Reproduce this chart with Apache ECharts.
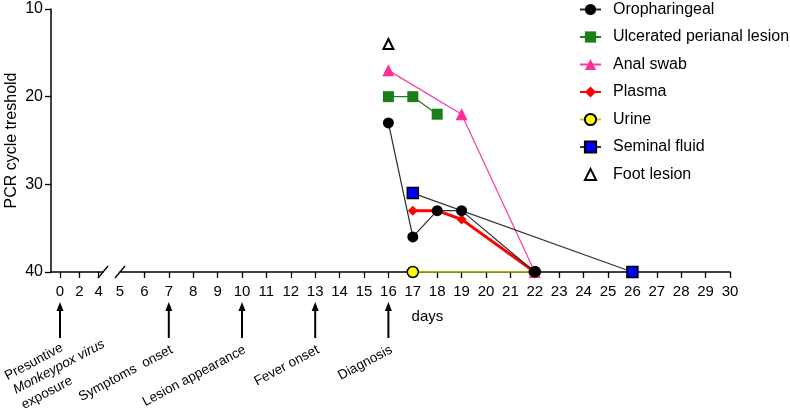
<!DOCTYPE html>
<html><head><meta charset="utf-8">
<script src="https://cdn.jsdelivr.net/npm/echarts@6/dist/echarts.min.js"></script>
<style>html,body{margin:0;padding:0;background:#fff}#c{width:790px;height:410px}</style>
</head><body><div id="c"></div>
<script>
// ---- data ----
const seriesNames = ['Oropharingeal', 'Ulcerated perianal lesion', 'Anal swab', 'Plasma', 'Urine', 'Seminal fluid', 'Foot lesion'];
const oroDays = [16, 17, 18, 19, 22];      const oroCt = [23, 36, 33, 33, 40];
const ulcDays = [16, 17, 18];              const ulcCt = [20, 20, 22];
const analDays = [16, 19, 22];             const analCt = [17, 22, 40];
const plasmaDays = [17, 18, 19, 22];       const plasmaCt = [33, 33, 34, 40];
const urineDays = [17, 22];                const urineCt = [40, 40];
const semDays = [17, 26];                  const semCt = [31, 40];
const footDays = [16];                     const footCt = [14];
const yTicks = [10, 20, 30, 40];
const xLabelsPre = [0, 2, 4];
const xLabelsMain = [5, 6, 7, 8, 9, 10, 11, 12, 13, 14, 15, 16, 17, 18, 19, 20, 21, 22, 23, 24, 25, 26, 27, 28, 29, 30];
const xTicksMain = [6, 7, 8, 9, 10, 11, 12, 13, 14, 15, 16, 17, 18, 19, 20, 21, 22, 23, 24, 25, 26, 27, 28, 29, 30];
const eventDays = [0, 7, 10, 13, 16];
const eventLabels = ['Presuntive\nMonkeypox virus\nexposure', 'Symptoms  onset', 'Lesion appearance', 'Fever onset', 'Diagnosis'];

const FONT = 'Liberation Sans, Arial, sans-serif';
const zip = (a, b) => a.map((v, i) => [v, b[i]]);

const chart = echarts.init(document.getElementById('c'), null, {renderer: 'canvas'});

const axisCommon = {
  type: 'value',
  axisLine: {show: true, onZero: false, lineStyle: {color: '#000', width: 1.5}},
  axisTick: {show: true, inside: false, length: 6, lineStyle: {color: '#000', width: 1.3}},
  axisLabel: {color: '#000', fontSize: 15, fontFamily: FONT, margin: 12, hideOverlap: false},
  splitLine: {show: false}
};

function lineSeries(name, days, ct, opts) {
  return Object.assign({
    name: name, type: 'line', xAxisIndex: 1, yAxisIndex: 1,
    data: zip(days, ct), animation: false
  }, opts);
}

const option = {
  animation: false,
  backgroundColor: '#fff',
  grid: [
    {left: 51, top: 9, width: 52, height: 263},
    {left: 120, top: 9, width: 610, height: 263}
  ],
  xAxis: [
    Object.assign({}, axisCommon, {
      gridIndex: 0, min: -0.933, max: 4.456,
      axisTick: Object.assign({}, axisCommon.axisTick, {customValues: xLabelsPre}),
      axisLabel: Object.assign({}, axisCommon.axisLabel, {customValues: xLabelsPre})
    }),
    Object.assign({}, axisCommon, {
      gridIndex: 1, min: 5, max: 30,
      axisTick: Object.assign({}, axisCommon.axisTick, {customValues: xTicksMain}),
      axisLabel: Object.assign({}, axisCommon.axisLabel, {customValues: xLabelsMain})
    })
  ],
  yAxis: [
    Object.assign({}, axisCommon, {
      gridIndex: 0, inverse: true, min: yTicks[0], max: yTicks[yTicks.length - 1], interval: 10,
      axisLabel: Object.assign({}, axisCommon.axisLabel, {fontSize: 16, margin: 8}),
      name: 'PCR cycle treshold', nameLocation: 'middle', nameRotate: 90, nameGap: 31,
      nameTextStyle: {color: '#000', fontSize: 16, fontFamily: FONT}
    }),
    {type: 'value', gridIndex: 1, inverse: true, min: yTicks[0], max: yTicks[yTicks.length - 1], show: false}
  ],
  legend: {
    orient: 'vertical', left: 579, top: 1.5, padding: 0, itemGap: 11.5, itemWidth: 21, itemHeight: 14,
    data: seriesNames,
    textStyle: {color: '#000', fontSize: 16, fontFamily: FONT, padding: [0, 0, 0, 7]}
  },
  series: [
    lineSeries(seriesNames[0], oroDays, oroCt, {
      z: 6, symbol: 'circle', symbolSize: 11,
      itemStyle: {color: '#000'}, lineStyle: {color: '#2a2a2a', width: 1.2}
    }),
    lineSeries(seriesNames[1], ulcDays, ulcCt, {
      z: 4, symbol: 'rect', symbolSize: 11,
      itemStyle: {color: '#1a7f1a'}, lineStyle: {color: '#1a7f1a', width: 1.2}
    }),
    lineSeries(seriesNames[2], analDays, analCt, {
      z: 3, symbol: 'triangle', symbolSize: 12,
      itemStyle: {color: '#ff2d95'}, lineStyle: {color: '#ff3aa0', width: 1.2}
    }),
    lineSeries(seriesNames[3], plasmaDays, plasmaCt, {
      z: 4, symbol: 'diamond', symbolSize: 10,
      itemStyle: {color: '#ff0000'}, lineStyle: {color: '#ff0000', width: 3}
    }),
    lineSeries(seriesNames[4], urineDays, urineCt, {
      z: 2, symbol: 'circle', symbolSize: 11,
      itemStyle: {color: '#ffff00', borderColor: '#000', borderWidth: 1.5}, lineStyle: {color: '#cccc00', width: 1.5}
    }),
    lineSeries(seriesNames[5], semDays, semCt, {
      z: 5, symbol: 'rect', symbolSize: 11,
      itemStyle: {color: '#0000ff', borderColor: '#000', borderWidth: 1.5}, lineStyle: {color: '#333', width: 1.2}
    }),
    lineSeries(seriesNames[6], footDays, footCt, {
      z: 6, symbol: 'triangle', symbolSize: 10,
      itemStyle: {color: '#fff', borderColor: '#000', borderWidth: 2}, lineStyle: {opacity: 0, width: 0}
    })
  ]
};

chart.setOption(option);

// ---- annotations (positions derived from the axes) ----
const graphics = [];
const axisY = chart.convertToPixel({yAxisIndex: 0}, 40);
const breakA = chart.convertToPixel({xAxisIndex: 0}, 4.456);
const breakB = chart.convertToPixel({xAxisIndex: 1}, 5);
[breakA, breakB].forEach(function (bx) {
  graphics.push({type: 'line', shape: {x1: bx - 5, y1: axisY + 6, x2: bx + 5, y2: axisY - 6},
    style: {stroke: '#000', lineWidth: 1.3}, silent: true});
});

const dayPx = function (d) {
  return d <= 4.456 ? chart.convertToPixel({xAxisIndex: 0}, d) : chart.convertToPixel({xAxisIndex: 1}, d);
};
const ROT = 28 * Math.PI / 180;
eventDays.forEach(function (d, i) {
  const x = dayPx(d);
  graphics.push({type: 'line', shape: {x1: x, y1: axisY + 37, x2: x, y2: axisY + 66},
    style: {stroke: '#000', lineWidth: 2}, silent: true});
  graphics.push({type: 'polygon', shape: {points: [[x - 3.5, axisY + 39], [x + 3.5, axisY + 39], [x, axisY + 30]]},
    style: {fill: '#000'}, silent: true});
  if (i === 0) {
    const parts = eventLabels[0].split('\n');
    const offs = [[-26, 90], [-1, 95], [-13, 121]];
    parts.forEach(function (t, k) {
      graphics.push({type: 'text', x: x + offs[k][0], y: axisY + offs[k][1], rotation: ROT,
        style: {text: t, fill: '#000', font: (k === 1 ? 'italic ' : '') + '13.5px ' + FONT, align: 'center', verticalAlign: 'middle'},
        silent: true});
    });
  } else {
    graphics.push({type: 'text', x: x + 3, y: axisY + 77, rotation: ROT,
      style: {text: eventLabels[i], fill: '#000', font: '13.5px ' + FONT, align: 'right', verticalAlign: 'middle'},
      silent: true});
  }
});
graphics.push({type: 'text', x: dayPx(17.6), y: axisY + 45,
  style: {text: 'days', fill: '#000', font: '15px ' + FONT, align: 'center', verticalAlign: 'middle'}, silent: true});

chart.setOption({graphic: graphics});
</script>
</body></html>
